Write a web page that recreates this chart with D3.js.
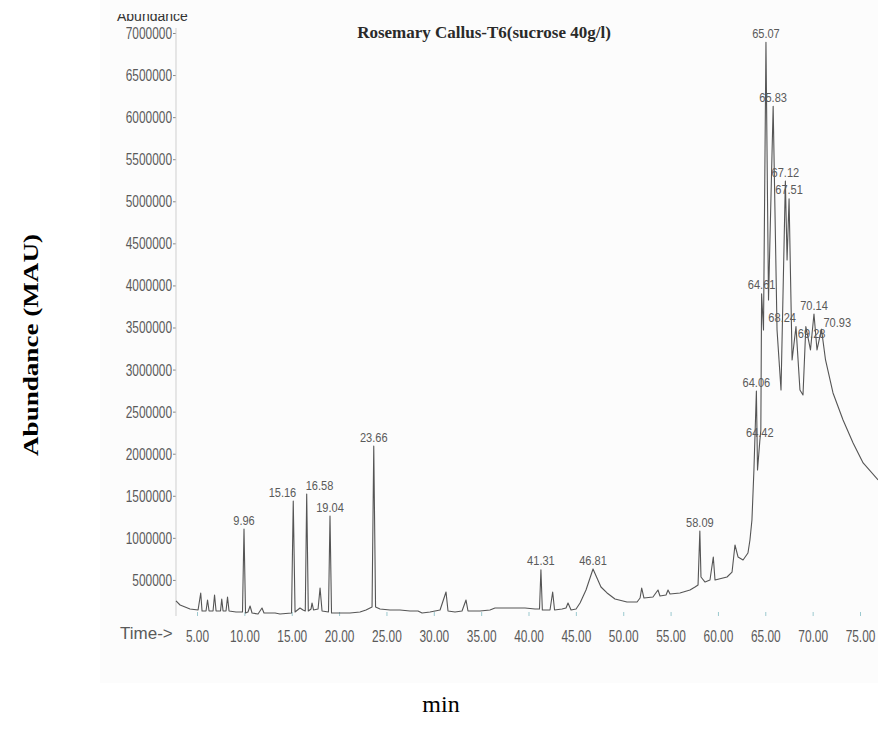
<!DOCTYPE html>
<html>
<head>
<meta charset="utf-8">
<script src="https://cdn.jsdelivr.net/npm/d3@7"></script>
<style>
  body { margin: 0; background: #fff; }
  svg { display: block; }
  .narrow { font-family: "Liberation Sans Narrow", "Liberation Sans", sans-serif; fill: #5a5a5a; }
</style>
</head>
<body>
<div id="chart"></div>
<script>
// trace: retention time (min) / abundance
const retentionTimes = [
  2.78, 3.21, 4.26, 5.11, 5.39, 5.53, 5.95, 6.11, 6.27, 6.69, 6.85, 7.01, 7.48, 7.61, 7.75, 8.06, 8.22, 8.38,
  9.12, 9.80, 9.96, 10.12, 10.38, 10.60, 10.81, 11.44, 11.86, 12.07, 13.24, 13.76,
  14.98, 15.16, 15.35, 15.87, 16.19, 16.43, 16.58, 16.75, 17.04, 17.14, 17.30, 17.78, 17.99, 18.20,
  18.88, 19.04, 19.20, 20.10, 21.15, 22.21, 22.84, 23.48, 23.66, 23.85, 24.32, 25.38, 26.43, 27.49, 28.33,
  28.76, 29.60, 30.66, 31.29, 31.50, 32.24, 32.98, 33.40, 33.61, 34.88, 35.93, 36.46, 38.05, 39.63, 40.69,
  41.16, 41.31, 41.46, 42.27, 42.55, 42.75, 43.54, 43.96, 44.17, 44.49, 45.02, 45.44, 46.07, 46.81,
  47.23, 47.65, 48.29, 49.13, 50.40, 51.46, 51.78, 51.95, 52.19, 53.14, 53.67, 53.88, 54.52, 54.73, 54.94,
  55.99, 57.05, 57.58, 57.90, 58.09, 58.21, 58.64, 59.16, 59.51, 59.69, 60.96, 61.49, 61.80, 62.12, 62.65,
  63.17, 63.38, 63.59, 63.80, 64.06, 64.18, 64.42, 64.53, 64.61, 64.81, 65.07, 65.34, 65.83, 66.24, 66.66,
  67.12, 67.30, 67.51, 67.83, 68.24, 68.66, 68.98, 69.28, 69.77, 70.14, 70.46, 70.93, 71.36, 72.15, 73.21,
  74.27, 75.33, 76.91
];
const abundance = [
  250000, 202000, 155000, 143000, 345000, 131000, 131000, 261000, 131000, 131000, 321000, 131000, 131000, 273000, 131000, 131000, 297000, 131000,
  119000, 119000, 1105000, 107000, 119000, 190000, 107000, 95000, 166000, 107000, 107000, 95000,
  107000, 1438000, 119000, 166000, 143000, 131000, 1521000, 131000, 155000, 226000, 143000, 155000, 404000, 131000,
  119000, 1260000, 107000, 107000, 107000, 119000, 143000, 178000, 2090000, 178000, 155000, 143000, 143000, 131000, 131000,
  107000, 119000, 143000, 357000, 131000, 119000, 131000, 261000, 131000, 131000, 143000, 166000, 166000, 166000, 155000,
  155000, 620000, 143000, 143000, 357000, 143000, 155000, 166000, 226000, 143000, 155000, 226000, 380000, 630000,
  523000, 416000, 345000, 273000, 238000, 238000, 285000, 404000, 285000, 297000, 380000, 309000, 321000, 380000, 333000,
  345000, 380000, 416000, 440000, 1080000, 535000, 475000, 499000, 773000, 499000, 535000, 594000, 915000, 773000, 737000,
  820000, 975000, 1212000, 1807000, 2745000, 1807000, 2150000, 2282000, 3900000, 3470000, 6890000, 3827000, 6130000, 3470000, 2757000,
  5240000, 4302000, 5030000, 3114000, 3510000, 2757000, 2698000, 3510000, 3233000, 3660000, 3233000, 3480000, 3114000, 2722000, 2401000,
  2127000, 1890000, 1688000
];

// labelled peaks
const peakLabels = ['9.96', '15.16', '16.58', '19.04', '23.66', '41.31', '46.81', '58.09', '64.06', '64.42', '64.61',
  '65.07', '65.83', '67.12', '67.51', '68.24', '69.28', '70.14', '70.93'];
const peakTimes = [9.96, 15.16, 16.58, 19.04, 23.66, 41.31, 46.81, 58.09, 64.06, 64.42, 64.61,
  65.07, 65.83, 67.12, 67.51, 68.24, 69.28, 70.14, 70.93];
const peakAbundance = [1105000, 1438000, 1521000, 1260000, 2090000, 620000, 630000, 1080000, 2745000, 2150000, 3900000,
  6890000, 6130000, 5240000, 5030000, 3510000, 3510000, 3660000, 3480000];

const xTickValues = [5, 10, 15, 20, 25, 30, 35, 40, 45, 50, 55, 60, 65, 70, 75];
const yTickValues = [500000, 1000000, 1500000, 2000000, 2500000, 3000000, 3500000,
  4000000, 4500000, 5000000, 5500000, 6000000, 6500000, 7000000];

const width = 878, height = 745;
const plot = { left: 176, right: 878, top: 33, zero: 622, axisY: 616 };

// where crowded labels get pushed aside (px)
const labelNudge = {
  '15.16': { dx: 3, dy: 0, anchor: 'end' },
  '16.58': { dx: -1, dy: 0, anchor: 'start' },
  '68.24': { dx: 0, dy: 0, anchor: 'end' },
  '69.28': { dx: -8, dy: 16, anchor: 'start' },
  '70.93': { dx: 2, dy: 2, anchor: 'start' }
};

const svg = d3.select('#chart').append('svg')
  .attr('width', width)
  .attr('height', height);

svg.append('rect')
  .attr('x', 100).attr('y', 0).attr('width', 778).attr('height', 683)
  .attr('fill', '#fcfcfc');

const x = d3.scaleLinear().domain([2.78, 76.9]).range([plot.left, plot.right]);
const y = d3.scaleLinear().domain([0, 7000000]).range([plot.zero, plot.top]);

const grad = svg.append('defs').append('linearGradient')
  .attr('id', 'axisGrad').attr('x1', '0%').attr('x2', '100%');
[['0%', '#dfe8b8'], ['10%', '#b9dfe6'], ['60%', '#a8dce2'], ['80%', '#e6dfa8'], ['90%', '#d6e2b8'], ['100%', '#b6e0e8']]
  .forEach(s => grad.append('stop').attr('offset', s[0]).attr('stop-color', s[1]));

// x axis
const xAxis = svg.append('g')
  .attr('transform', 'translate(0,' + plot.axisY + ')')
  .call(d3.axisBottom(x).tickValues(xTickValues).tickSize(-4).tickSizeOuter(0).tickFormat(d3.format('.2f')));
xAxis.select('.domain').attr('stroke', 'url(#axisGrad)').attr('stroke-width', 1.5);
xAxis.selectAll('.tick line').attr('stroke', '#9cc9cf');
xAxis.selectAll('.tick text')
  .attr('class', 'narrow')
  .attr('font-size', 17)
  .attr('y', 14)
  .attr('dy', '0.71em')
  .attr('transform', 'scale(0.7,1)');

// y axis
const yAxis = svg.append('g')
  .attr('transform', 'translate(' + plot.left + ',0)')
  .call(d3.axisLeft(y).tickValues(yTickValues).tickSize(3).tickSizeOuter(0).tickFormat(d3.format('d')));
yAxis.select('.domain').remove();
yAxis.selectAll('.tick line').attr('stroke', '#888');
yAxis.selectAll('.tick text')
  .attr('class', 'narrow')
  .attr('font-size', 17)
  .attr('x', -4 / 0.7)
  .attr('transform', 'scale(0.7,1)');

svg.append('line')
  .attr('x1', plot.left).attr('x2', plot.left)
  .attr('y1', 28).attr('y2', plot.axisY)
  .attr('stroke', '#cfcfcf');

svg.append('text')
  .attr('class', 'narrow')
  .attr('x', 120).attr('y', 639)
  .attr('font-size', 17)
  .text('Time->');

// cut-off "Abundance" at top of the scan
svg.append('clipPath').attr('id', 'topClip')
  .append('rect').attr('x', 100).attr('y', 14).attr('width', 100).attr('height', 20);
svg.append('text')
  .attr('clip-path', 'url(#topClip)')
  .attr('x', 117).attr('y', 21)
  .attr('font-family', '"Liberation Sans", sans-serif')
  .attr('font-size', 14)
  .attr('fill', '#333')
  .text('Abundance');

// trace
const line = d3.line()
  .x((d, i) => x(retentionTimes[i]))
  .y(d => y(d));

svg.append('path')
  .datum(abundance)
  .attr('d', line)
  .attr('fill', 'none')
  .attr('stroke', '#555')
  .attr('stroke-width', 1.1)
  .attr('stroke-linejoin', 'round');

// peak labels
const nudge = d => labelNudge[d] || { dx: 0, dy: 0, anchor: 'middle' };
svg.selectAll('.peak')
  .data(peakLabels)
  .enter().append('text')
  .attr('class', 'narrow peak')
  .attr('font-size', 13)
  .attr('text-anchor', d => nudge(d).anchor)
  .attr('dy', '0.35em')
  .attr('transform', (d, i) => 'translate(' + (x(peakTimes[i]) + nudge(d).dx) + ','
    + (y(peakAbundance[i]) - 9 + nudge(d).dy) + ') scale(0.85,1)')
  .text(d => d);

// titles
svg.append('text')
  .attr('x', 484).attr('y', 38)
  .attr('text-anchor', 'middle')
  .attr('font-family', '"Liberation Serif", serif')
  .attr('font-weight', 'bold')
  .attr('font-size', 17)
  .attr('fill', '#2a2a2a')
  .text('Rosemary Callus-T6(sucrose 40g/l)');

svg.append('text')
  .attr('transform', 'translate(38,345) rotate(-90)')
  .attr('text-anchor', 'middle')
  .attr('font-family', '"Liberation Serif", serif')
  .attr('font-weight', 'bold')
  .attr('font-size', 20)
  .attr('textLength', 222)
  .attr('lengthAdjust', 'spacingAndGlyphs')
  .attr('fill', '#000')
  .text('Abundance (MAU)');

svg.append('text')
  .attr('x', 441).attr('y', 712)
  .attr('text-anchor', 'middle')
  .attr('font-family', '"Liberation Serif", serif')
  .attr('font-size', 24)
  .attr('fill', '#000')
  .text('min');
</script>
</body>
</html>
